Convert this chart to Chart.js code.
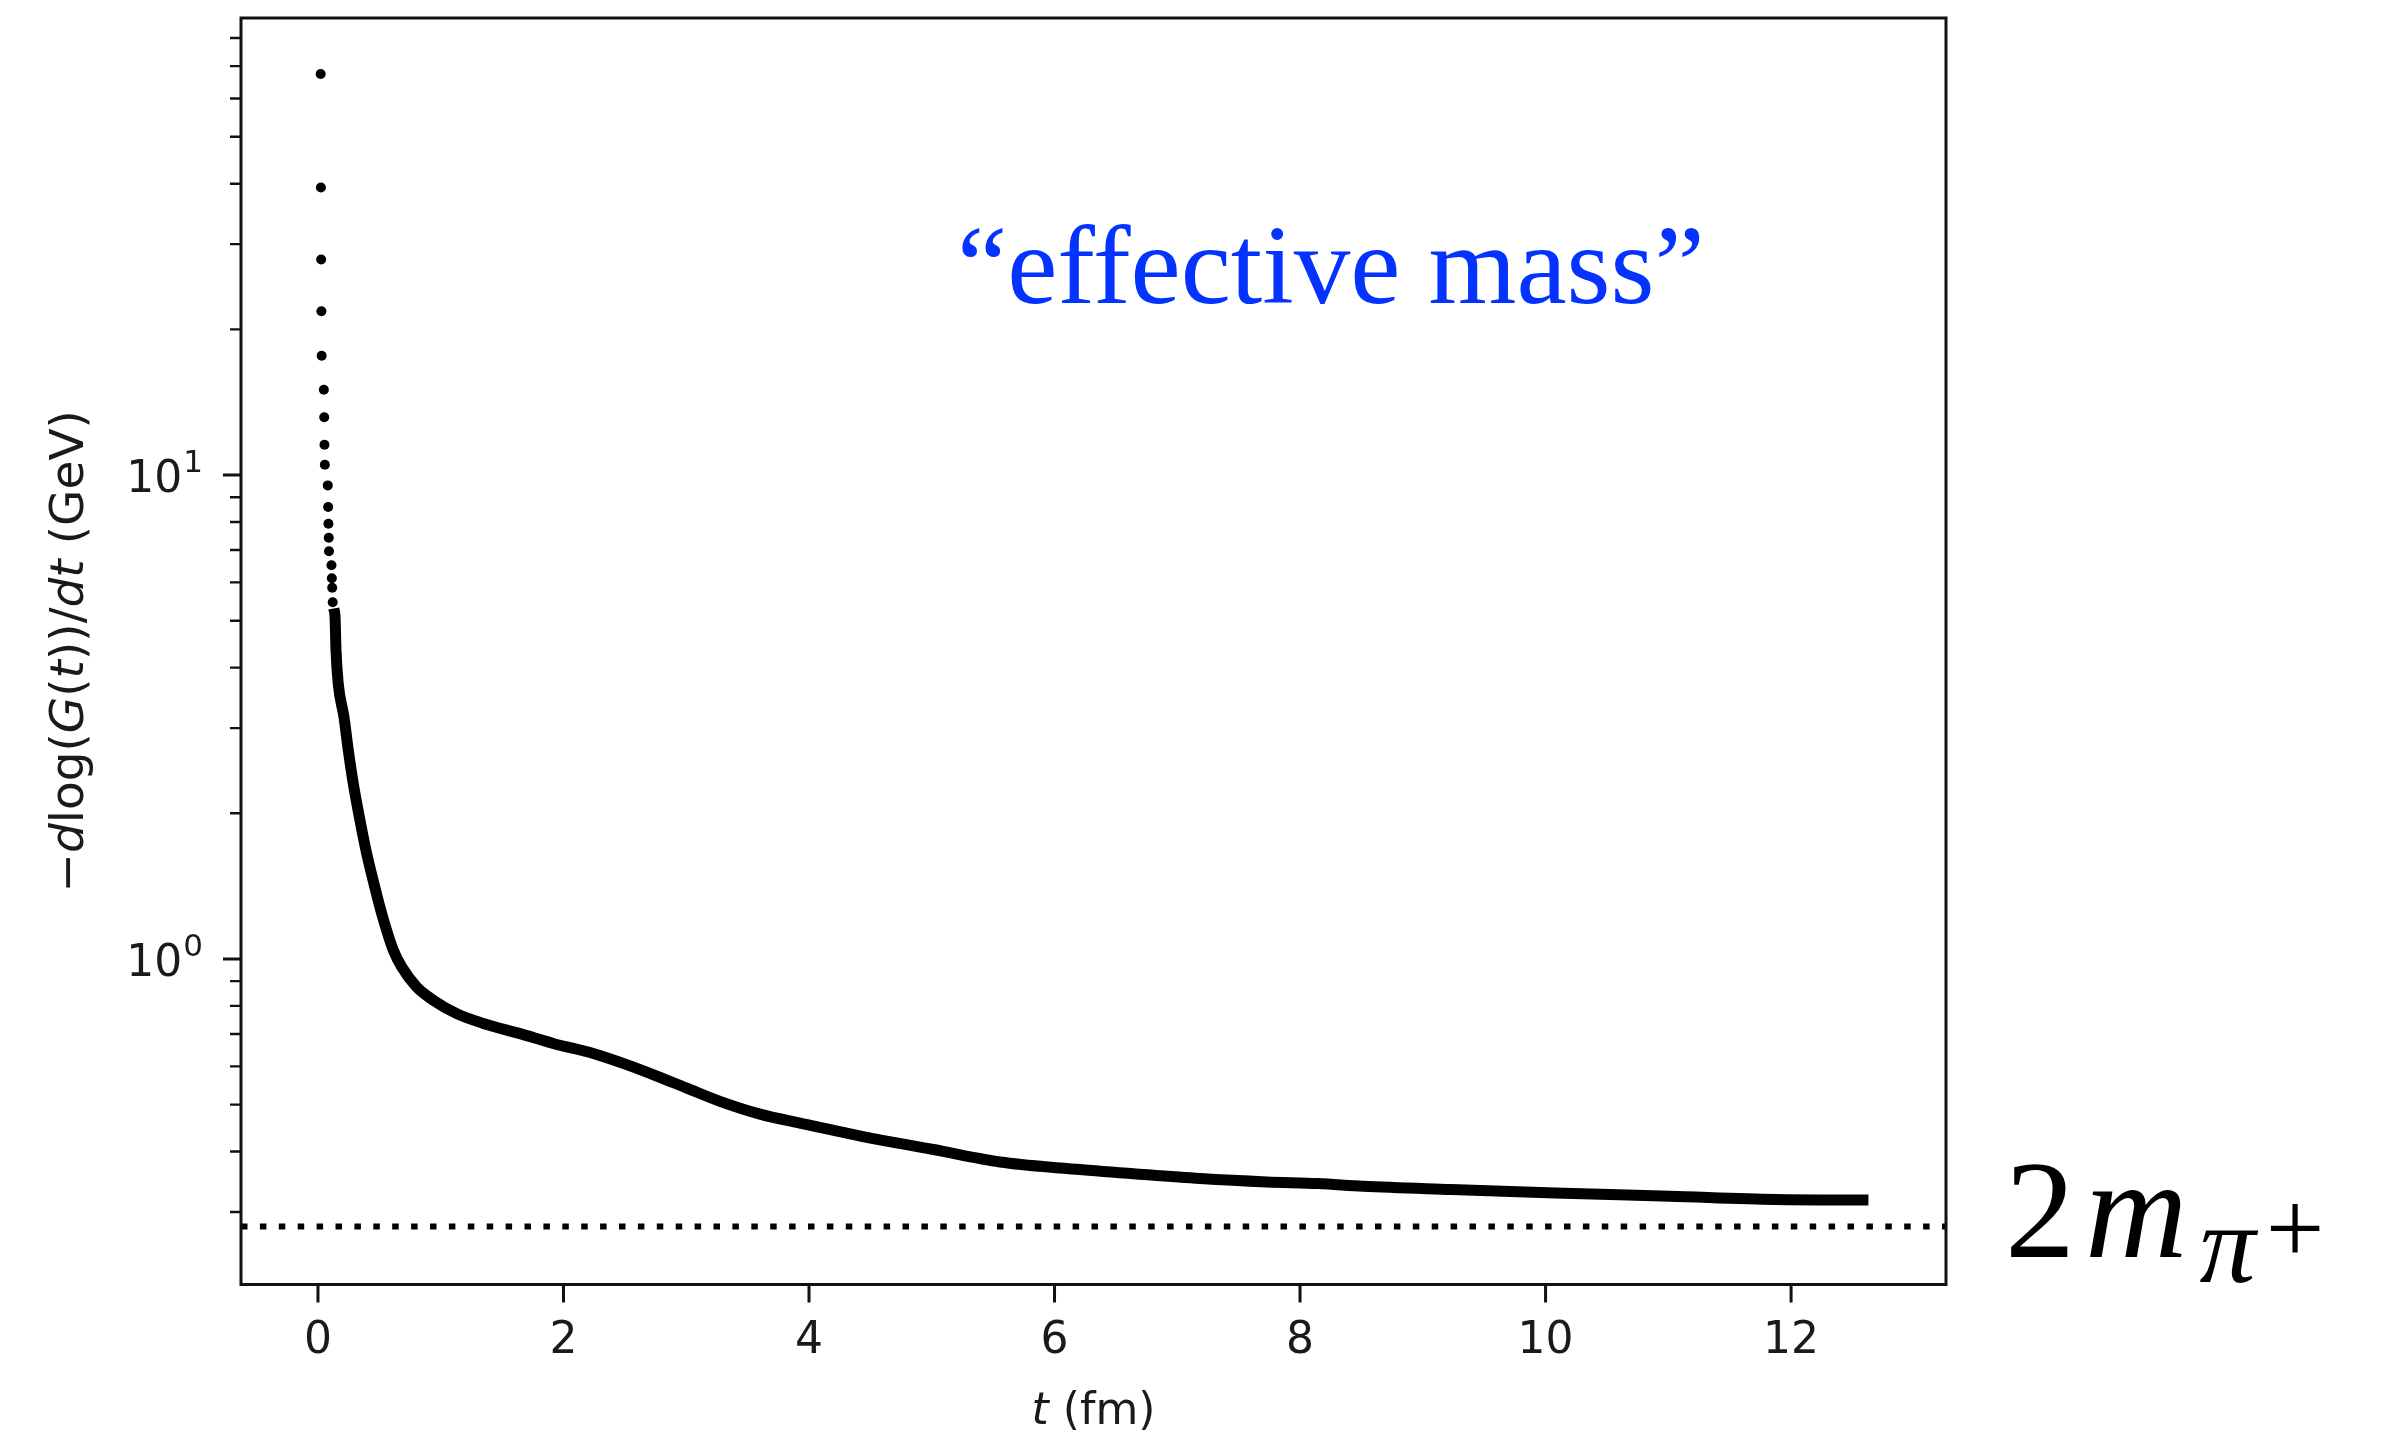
<!DOCTYPE html>
<html>
<head>
<meta charset="utf-8">
<script src="https://cdn.jsdelivr.net/npm/chart.js@4.4.1/dist/chart.umd.min.js"></script>
<style>
  html, body { margin: 0; padding: 0; background: #fff; }
  canvas { display: block; }
</style>
</head>
<body>
<canvas id="chart" width="2392" height="1434"></canvas>
<script>
// values
// first lattice points, still separated from each other
const earlyT = [0.022, 0.024, 0.026, 0.028, 0.030, 0.048, 0.051, 0.053, 0.056,
  0.080, 0.083, 0.085, 0.088, 0.090, 0.110, 0.113, 0.116, 0.120];
const earlyMass = [67.4, 39.3, 27.9, 21.8, 17.64, 15.01, 13.17, 11.55, 10.50,
  9.52, 8.59, 7.93, 7.42, 6.96, 6.51, 6.12, 5.85, 5.46];

// the dense part, where the points merge into a band
const bandT = [0.128, 0.139, 0.147, 0.165, 0.212, 0.247, 0.288, 0.337, 0.391, 0.456, 0.527,
  0.614, 0.682, 0.804, 0.939, 1.13, 1.347, 1.646, 1.917, 2.243, 2.515,
  2.76, 3.004, 3.275, 3.601, 3.927, 4.47, 5.013, 5.556, 6.10, 6.642,
  7.186, 7.729, 8.147, 8.514, 9.231, 10.078, 11.015, 11.871, 12.63];
const bandMass = [5.30, 5.09, 4.34, 3.71, 3.16, 2.70, 2.30, 1.965, 1.677, 1.431, 1.221,
  1.042, 0.963, 0.875, 0.822, 0.771, 0.736, 0.701, 0.669, 0.638, 0.605,
  0.573, 0.541, 0.508, 0.478, 0.458, 0.428, 0.404, 0.3807, 0.369, 0.360,
  0.3518, 0.3462, 0.3436, 0.3392, 0.334, 0.3285, 0.3234, 0.3184, 0.3175];

const twoMPi = 0.28;

const xTicks = [0, 2, 4, 6, 8, 10, 12];
const yMajorTicks = [1, 10];
const yMinorTicks = [0.3, 0.4, 0.5, 0.6, 0.7, 0.8, 0.9, 2, 3, 4, 5, 6, 7, 8, 9,
  20, 30, 40, 50, 60, 70, 80];
const yMajorExponents = ['0', '1'];

const xRange = [-0.627, 13.262];
const yRange = [0.2125, 88];

const toPoints = (xs, ys) => xs.map((x, i) => ({ x: x, y: ys[i] }));

const INK = '#111';
const TEXT = '#1a1a1a';

// draw a string made of parts with different font styles, centred on cx
function drawParts(ctx, parts, cx, baseline, size) {
  let total = 0;
  parts.forEach(p => {
    ctx.font = (p[1] ? 'italic ' : '') + size + 'px "DejaVu Sans"';
    total += ctx.measureText(p[0]).width;
  });
  let x = cx - total / 2;
  parts.forEach(p => {
    ctx.font = (p[1] ? 'italic ' : '') + size + 'px "DejaVu Sans"';
    ctx.fillText(p[0], x, baseline);
    x += ctx.measureText(p[0]).width;
  });
}

const framePlugin = {
  id: 'frame',
  afterDraw(chart) {
    const { ctx, chartArea: a, scales } = chart;
    const x = scales.x, y = scales.y;
    ctx.save();

    // spines
    ctx.strokeStyle = INK;
    ctx.lineWidth = 3;
    ctx.strokeRect(a.left, a.top, a.right - a.left, a.bottom - a.top);

    // tick marks
    ctx.beginPath();
    yMajorTicks.forEach(v => {
      const py = y.getPixelForValue(v);
      ctx.moveTo(a.left, py);
      ctx.lineTo(a.left - 18, py);
    });
    xTicks.forEach(v => {
      const px = x.getPixelForValue(v);
      ctx.moveTo(px, a.bottom);
      ctx.lineTo(px, a.bottom + 18);
    });
    ctx.stroke();
    ctx.lineWidth = 2.4;
    ctx.beginPath();
    yMinorTicks.forEach(v => {
      const py = y.getPixelForValue(v);
      if (py < a.top || py > a.bottom) return;
      ctx.moveTo(a.left, py);
      ctx.lineTo(a.left - 11, py);
    });
    ctx.stroke();

    // y tick labels 10^n
    ctx.fillStyle = TEXT;
    ctx.textBaseline = 'alphabetic';
    ctx.textAlign = 'left';
    yMajorTicks.forEach((v, i) => {
      const py = y.getPixelForValue(v);
      const right = a.left - 38;
      ctx.font = '31px "DejaVu Sans"';
      const supW = ctx.measureText(yMajorExponents[i]).width;
      ctx.font = '44px "DejaVu Sans"';
      const baseW = ctx.measureText('10').width;
      const x0 = right - supW - baseW - 1;
      ctx.fillText('10', x0, py + 17);
      ctx.font = '31px "DejaVu Sans"';
      ctx.fillText(yMajorExponents[i], x0 + baseW + 1, py - 3);
    });

    // axis titles
    drawParts(ctx, [['t', true], [' (fm)', false]], (a.left + a.right) / 2, a.bottom + 139, 44);

    ctx.save();
    ctx.translate(a.left - 158, (a.top + a.bottom) / 2);
    ctx.rotate(-Math.PI / 2);
    drawParts(ctx, [
      ['\u2212', false], ['d', true], ['log(', false], ['G', true], ['(', false],
      ['t', true], ['))/', false], ['dt', true], [' (GeV)', false]
    ], 0, 0, 47);
    ctx.restore();

    // annotations
    ctx.fillStyle = '#0433ff';
    ctx.font = '113px "Liberation Serif"';
    ctx.fillText('\u201ceffective mass\u201d', 957, 303);

    ctx.fillStyle = '#000';
    let tx = 2005;
    ctx.font = '140px "Liberation Serif"';
    ctx.fillText('2', tx, 1257);
    tx += ctx.measureText('2').width + 10;
    ctx.font = 'italic 142px "Liberation Serif"';
    ctx.fillText('m', tx, 1257);
    tx += ctx.measureText('m').width + 12;
    ctx.font = 'italic 112px "Liberation Serif"';
    ctx.fillText('\u03c0', tx, 1282);
    tx += ctx.measureText('\u03c0').width + 10;
    ctx.font = '104px "Liberation Serif"';
    ctx.fillText('+', tx, 1263);

    ctx.restore();
  }
};

new Chart(document.getElementById('chart'), {
  type: 'scatter',
  data: {
    datasets: [
      {
        label: 'band',
        data: toPoints(bandT, bandMass),
        showLine: true,
        borderColor: '#000',
        borderWidth: 11,
        pointRadius: 0,
        cubicInterpolationMode: 'monotone'
      },
      {
        label: 'early',
        data: toPoints(earlyT, earlyMass),
        showLine: false,
        backgroundColor: '#000',
        borderWidth: 0,
        pointRadius: 5
      },
      {
        label: '2m_pi',
        data: toPoints(xRange, [twoMPi, twoMPi]),
        showLine: true,
        borderColor: '#000',
        borderWidth: 6,
        borderDash: [6.5, 12.4],
        borderCapStyle: 'butt',
        pointRadius: 0
      }
    ]
  },
  options: {
    responsive: false,
    devicePixelRatio: 1,
    animation: false,
    layout: { padding: { left: 0, top: 18, right: 446, bottom: 0 } },
    plugins: {
      legend: { display: false },
      tooltip: { enabled: false }
    },
    scales: {
      x: {
        type: 'linear',
        min: xRange[0],
        max: xRange[1],
        afterBuildTicks: scale => { scale.ticks = xTicks.map(v => ({ value: v })); },
        afterFit: scale => {
          scale.height = 149.5;
          scale.paddingLeft = 0;
          scale.paddingRight = 0;
        },
        grid: { display: false, drawTicks: false },
        border: { display: false },
        ticks: {
          autoSkip: false,
          maxRotation: 0,
          padding: 31,
          color: TEXT,
          font: { family: 'DejaVu Sans', size: 44 },
          callback: v => String(v)
        }
      },
      y: {
        type: 'logarithmic',
        min: yRange[0],
        max: yRange[1],
        afterBuildTicks: scale => {
          scale.ticks = yMinorTicks.concat(yMajorTicks)
            .sort((p, q) => p - q)
            .map(v => ({ value: v, major: yMajorTicks.includes(v) }));
        },
        afterFit: scale => {
          scale.width = 241;
          scale.paddingTop = 0;
          scale.paddingBottom = 0;
        },
        grid: { display: false, drawTicks: false },
        border: { display: false },
        ticks: { display: false }
      }
    }
  },
  plugins: [framePlugin]
});
</script>
</body>
</html>
